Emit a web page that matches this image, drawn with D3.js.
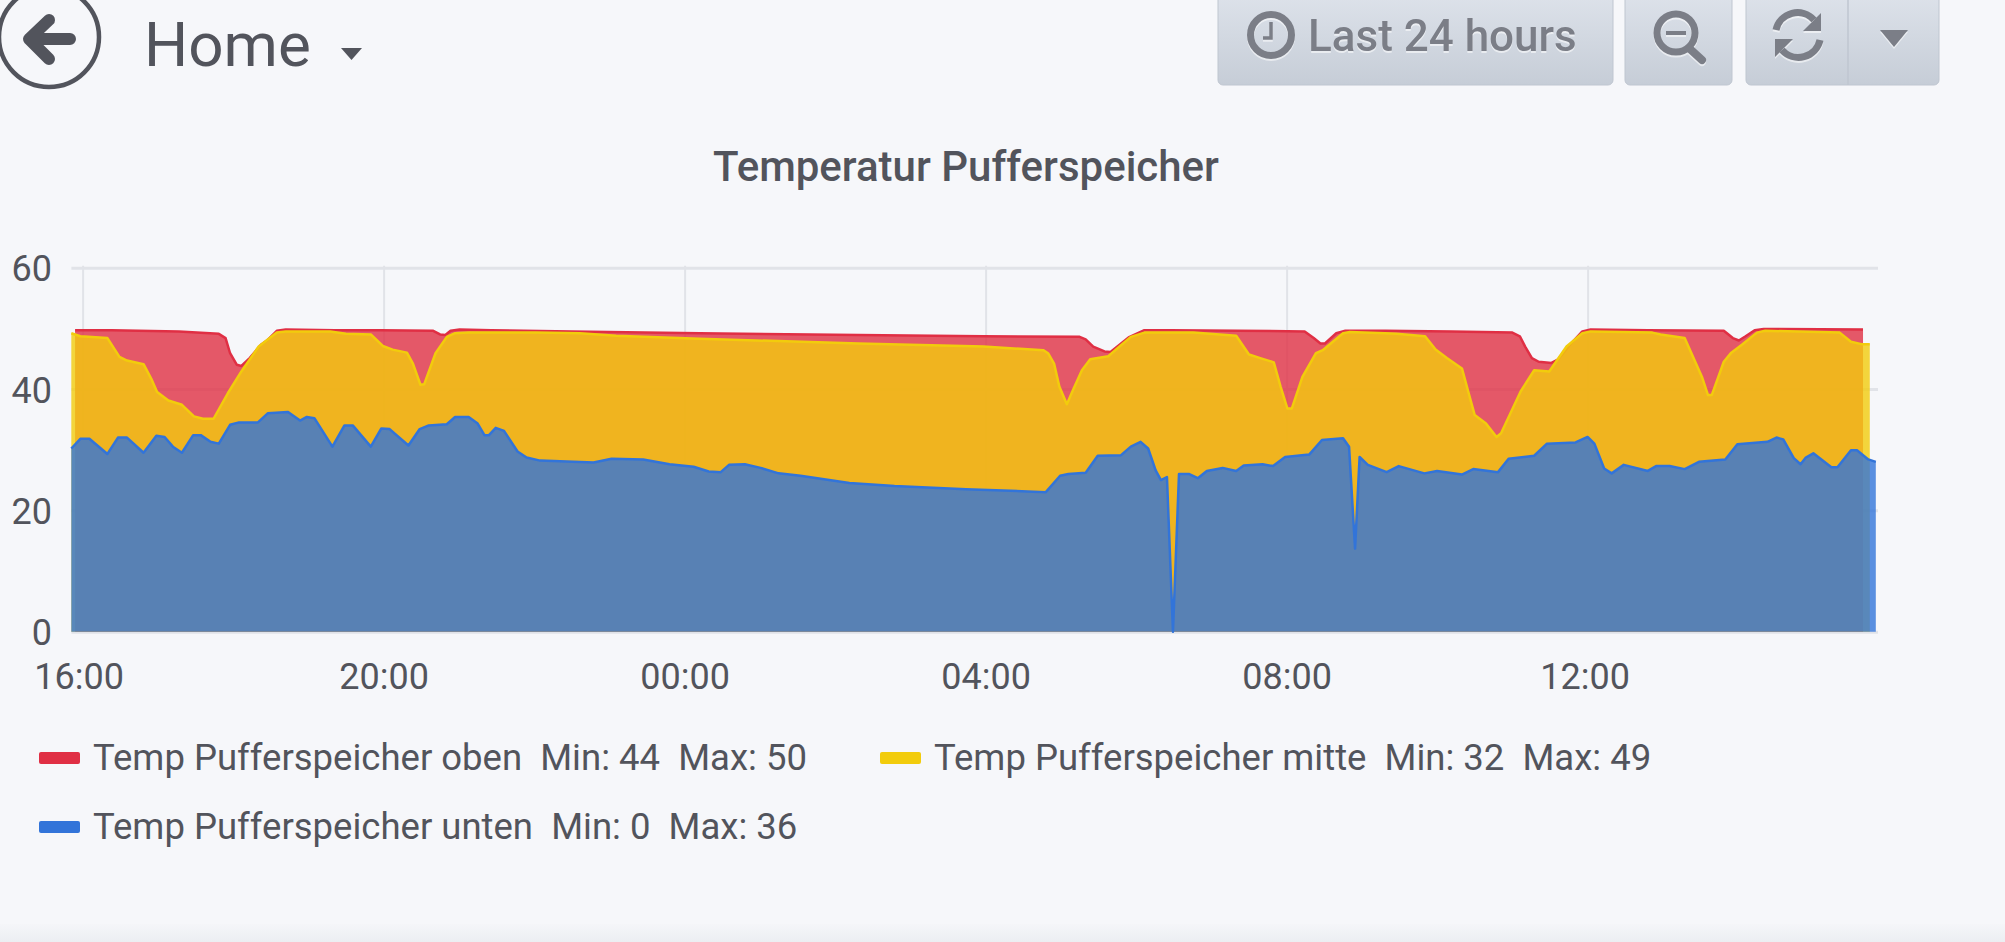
<!DOCTYPE html>
<html>
<head>
<meta charset="utf-8">
<script src="https://cdn.jsdelivr.net/npm/d3@7"></script>
<style>
  html, body { margin: 0; padding: 0; background: #f7f8fa; overflow: hidden; }
  svg { display: block; font-family: Roboto, sans-serif; }
  text { white-space: pre; }
</style>
</head>
<body>
<div id="chart"></div>
<script>
// hours after 16:00, temperature in deg C
const obenHours = [-0.10,0.39,1.28,1.81,1.90,1.96,2.05,2.11,2.22,2.37,2.46,2.58,2.70,3.35,3.95,4.66,4.75,4.82,4.89,5.01,5.43,6.50,8.20,10.31,11.97,13.25,13.33,13.43,13.58,13.66,13.78,13.90,14.11,14.46,15.35,16.24,16.36,16.45,16.51,16.66,16.78,17.31,18.19,19.00,19.10,19.17,19.26,19.35,19.52,19.61,19.78,19.93,20.04,20.80,21.81,21.93,22.01,22.10,22.22,22.34,23.66];
const obenValues = [49.7,49.7,49.5,49.1,48.4,45.9,44.0,43.8,45.1,47.3,48.1,49.6,49.8,49.7,49.7,49.6,49.0,48.9,49.6,49.8,49.7,49.5,49.2,48.9,48.7,48.6,48.2,47.0,46.2,46.1,47.3,48.5,49.7,49.7,49.6,49.5,48.4,47.5,47.5,49.2,49.6,49.6,49.5,49.3,48.7,47.0,45.1,44.5,44.3,44.9,47.5,49.5,49.8,49.7,49.6,48.4,48.0,48.7,49.7,49.9,49.8];

const mitteHours = [-0.15,-0.03,0.33,0.49,0.59,0.81,0.92,0.99,1.14,1.32,1.48,1.60,1.74,1.93,2.11,2.34,2.58,2.70,3.29,3.50,3.83,3.99,4.12,4.31,4.39,4.49,4.54,4.69,4.84,4.95,5.13,6.02,6.61,7.09,8.20,10.31,11.97,12.77,12.83,12.91,12.98,13.08,13.16,13.28,13.39,13.63,13.78,13.93,14.11,14.76,15.33,15.40,15.50,15.65,15.83,15.92,16.01,16.07,16.21,16.39,16.48,16.75,16.84,17.31,17.46,17.84,17.98,18.13,18.33,18.42,18.50,18.65,18.79,18.85,19.11,19.29,19.49,19.72,19.93,20.04,20.86,20.97,21.29,21.38,21.52,21.60,21.65,21.81,21.91,22.05,22.25,22.36,23.35,23.50,23.64,23.75];
const mitteValues = [49.2,48.7,48.4,45.3,44.7,44.1,41.5,39.5,38.1,37.4,35.5,35.1,35.1,39.3,42.9,47.0,49.3,49.5,49.5,49.1,49.0,47.1,46.5,46.0,44.2,40.7,40.8,45.9,48.6,49.2,49.3,49.3,49.2,48.8,48.3,47.5,47.0,46.4,45.9,44.2,40.4,37.5,39.8,43.1,44.9,45.4,47.0,48.6,49.3,49.3,48.8,47.5,45.7,45.1,44.4,40.4,36.8,36.8,42.0,45.9,46.4,49.2,49.4,49.2,49.1,48.7,46.5,45.1,43.4,39.3,35.7,34.3,32.1,32.7,39.6,43.1,42.9,47.0,49.2,49.5,49.3,49.0,48.4,45.9,42.0,39.0,39.0,44.5,46.0,47.3,49.3,49.6,49.3,47.8,47.4,47.4];

const untenHours = [-0.15,-0.03,0.09,0.33,0.47,0.59,0.81,0.98,1.09,1.20,1.32,1.47,1.57,1.70,1.81,1.96,2.08,2.33,2.46,2.73,2.89,2.98,3.08,3.32,3.48,3.59,3.83,3.97,4.08,4.33,4.48,4.60,4.84,4.95,5.13,5.25,5.34,5.40,5.49,5.60,5.78,5.90,6.08,6.79,7.03,7.45,7.80,8.12,8.32,8.48,8.59,8.80,9.01,9.25,9.54,10.19,10.79,11.74,12.80,12.99,13.10,13.33,13.49,13.80,13.93,14.06,14.16,14.26,14.33,14.41,14.49,14.57,14.70,14.82,14.94,15.15,15.33,15.43,15.68,15.82,15.98,16.30,16.47,16.75,16.83,16.91,16.97,17.08,17.33,17.49,17.83,18.00,18.33,18.48,18.81,18.95,19.29,19.46,19.84,20.00,20.09,20.22,20.32,20.48,20.80,20.91,21.09,21.29,21.48,21.83,21.99,22.39,22.51,22.60,22.74,22.83,22.90,23.00,23.24,23.32,23.50,23.58,23.73,23.83];
const untenValues = [30.2,31.8,31.8,29.3,32.0,32.0,29.5,32.3,32.1,30.5,29.5,32.4,32.4,31.3,31.0,34.1,34.5,34.5,36.0,36.2,34.8,35.4,35.2,30.5,34.0,34.0,30.5,33.5,33.4,30.7,33.4,34.0,34.2,35.4,35.4,34.3,32.4,32.4,33.6,33.1,29.7,28.7,28.2,27.9,28.5,28.4,27.6,27.2,26.4,26.3,27.5,27.6,27.0,26.1,25.7,24.5,24.0,23.5,23.0,25.7,26.0,26.2,29.0,29.1,30.5,31.3,30.2,26.6,25.0,25.5,0,26.0,26.0,25.3,26.5,27.0,26.5,27.4,27.6,27.3,28.8,29.2,31.6,31.9,30.5,13.7,28.8,27.5,26.3,27.3,26.1,26.5,25.9,26.8,26.3,28.5,29.0,31.0,31.2,32.1,31.0,26.9,26.1,27.5,26.5,27.3,27.3,26.8,28.0,28.4,30.9,31.3,32.0,31.7,28.6,27.6,28.7,29.4,27.1,27.1,29.9,29.9,28.4,28.0];

const seriesNames = ['Temp Pufferspeicher oben', 'Temp Pufferspeicher mitte', 'Temp Pufferspeicher unten'];
const seriesMin = [44, 32, 0];
const seriesMax = [50, 49, 36];
const seriesColors = ['#e02f44', '#f2cc0c', '#3274d9'];

const xTickHours = [0, 4, 8, 12, 16, 20];
const xTickLabels = ['16:00', '20:00', '00:00', '04:00', '08:00', '12:00'];
const yTicks = [0, 20, 40, 60];

const width = 2005, height = 942;
const textColor = '#52545c';
const btnText = '#7b7e87';

const svg = d3.select('#chart').append('svg')
  .attr('width', width)
  .attr('height', height);

const defs = svg.append('defs');
const btnGrad = defs.append('linearGradient').attr('id', 'btn').attr('x1', 0).attr('x2', 0).attr('y1', 0).attr('y2', 1);
btnGrad.append('stop').attr('offset', '0%').attr('stop-color', '#dee3eb');
btnGrad.append('stop').attr('offset', '100%').attr('stop-color', '#c6cdd7');
const bottomGrad = defs.append('linearGradient').attr('id', 'bottomFade').attr('x1', 0).attr('x2', 0).attr('y1', 0).attr('y2', 1);
bottomGrad.append('stop').attr('offset', '0%').attr('stop-color', '#f5f6f9');
bottomGrad.append('stop').attr('offset', '100%').attr('stop-color', '#eceef2');

svg.append('rect').attr('width', width).attr('height', height).attr('fill', '#f6f7fa');
svg.append('rect').attr('y', 924).attr('width', width).attr('height', 18).attr('fill', 'url(#bottomFade)');

// scales
const x = d3.scaleLinear().domain([0, 20]).range([82.6, 1587.6]);
const y = d3.scaleLinear().domain([0, 60]).range([631.7, 267.7]);
const plotLeft = 71.4, plotRight = 1878;

// grid + axes, drawn under the series like flot does
const xAxis = svg.append('g')
  .attr('transform', `translate(0,${y(0)})`)
  .call(d3.axisBottom(x).tickValues(xTickHours).tickFormat((d, i) => xTickLabels[i]).tickSize(-(y(0) - y(60) + 2)));
xAxis.select('.domain').remove();
xAxis.selectAll('line').attr('stroke', '#e1e3e8').attr('stroke-width', 2);
xAxis.selectAll('text')
  .attr('y', 57).attr('dy', 0)
  .attr('dx', (d, i) => (i === 0 ? -4 : i === 5 ? -3 : 0))
  .attr('fill', textColor).attr('font-size', 36).attr('font-family', 'Roboto, sans-serif');

const yAxis = svg.append('g')
  .attr('transform', `translate(${plotLeft},0)`)
  .call(d3.axisLeft(y).tickValues(yTicks).tickSize(-(plotRight - plotLeft)));
yAxis.select('.domain').remove();
yAxis.selectAll('line').attr('stroke', '#e1e3e8').attr('stroke-width', 3);
yAxis.selectAll('text')
  .attr('x', -19.5).attr('dy', '0.36em')
  .attr('fill', textColor).attr('font-size', 36).attr('font-family', 'Roboto, sans-serif');

// series, each one filled with 0.8 alpha and painted over the previous
const seriesData = [
  d3.zip(obenHours, obenValues),
  d3.zip(mitteHours, mitteValues),
  d3.zip(untenHours, untenValues)
];
const area = d3.area().x(d => x(d[0])).y0(y(0)).y1(d => y(d[1]));
const line = d3.line().x(d => x(d[0])).y(d => y(d[1]));

seriesData.forEach((data, i) => {
  svg.append('path').attr('d', area(data)).attr('fill', seriesColors[i]).attr('fill-opacity', 0.8);
  svg.append('path').attr('d', line(data)).attr('fill', 'none')
    .attr('stroke', seriesColors[i]).attr('stroke-width', 2.5).attr('stroke-linejoin', 'round');
});

// title
svg.append('text')
  .attr('x', 966).attr('y', 181)
  .attr('text-anchor', 'middle')
  .attr('font-size', 42).attr('font-weight', 500)
  .attr('fill', textColor)
  .text('Temperatur Pufferspeicher');

// legend
const legendX = [39, 880, 39];
const legendY = [770, 770, 839];
seriesNames.forEach((name, i) => {
  svg.append('rect')
    .attr('x', legendX[i]).attr('y', legendY[i] - 18)
    .attr('width', 41).attr('height', 12).attr('rx', 2)
    .attr('fill', seriesColors[i]);
  svg.append('text')
    .attr('x', legendX[i] + 54).attr('y', legendY[i])
    .attr('font-size', 36.5).attr('fill', textColor)
    .text(`${name}  Min: ${seriesMin[i]}  Max: ${seriesMax[i]}`);
});

// top bar, left side
const nav = svg.append('g');
nav.append('circle').attr('cx', 49).attr('cy', 37).attr('r', 50)
  .attr('fill', 'none').attr('stroke', textColor).attr('stroke-width', 4.5);
nav.append('path')
  .attr('d', 'M70 39H30M49 20L29 39L49 59')
  .attr('fill', 'none').attr('stroke', textColor).attr('stroke-width', 12)
  .attr('stroke-linecap', 'round').attr('stroke-linejoin', 'round');
nav.append('text').attr('x', 144).attr('y', 66)
  .attr('font-size', 62).attr('fill', textColor).text('Home');
nav.append('path').attr('d', 'M341 48H362L351.5 60Z').attr('fill', textColor);

// top bar, buttons
const buttons = [[1218, 395], [1625, 107], [1746, 193]];
buttons.forEach(b => {
  svg.append('rect').attr('x', b[0]).attr('y', -10).attr('width', b[1]).attr('height', 95)
    .attr('rx', 5).attr('fill', 'url(#btn)').attr('stroke', '#bfc6d0').attr('stroke-width', 1);
});
svg.append('line').attr('x1', 1848).attr('x2', 1848).attr('y1', 0).attr('y2', 85)
  .attr('stroke', '#bfc6d0').attr('stroke-width', 1.5);

const btnIcons = svg.append('g').style('filter', 'drop-shadow(0 2px 0 rgba(255,255,255,0.55))');
btnIcons.append('circle').attr('cx', 1271).attr('cy', 35).attr('r', 20.5)
  .attr('fill', 'none').attr('stroke', btnText).attr('stroke-width', 7);
btnIcons.append('path').attr('d', 'M1271 22V38H1263').attr('fill', 'none')
  .attr('stroke', btnText).attr('stroke-width', 3.5);
btnIcons.append('text').attr('x', 1308).attr('y', 50.5)
  .attr('font-size', 44).attr('font-weight', 500).attr('fill', btnText).text('Last 24 hours');
btnIcons.append('circle').attr('cx', 1676).attr('cy', 33).attr('r', 19)
  .attr('fill', 'none').attr('stroke', btnText).attr('stroke-width', 7);
btnIcons.append('path').attr('d', 'M1666 33H1686').attr('stroke', btnText).attr('stroke-width', 4);
btnIcons.append('path').attr('d', 'M1690 49L1702 60').attr('stroke', btnText)
  .attr('stroke-width', 8).attr('stroke-linecap', 'round');
btnIcons.append('path').attr('d', 'M1776 30A22 22 0 0 1 1814 20M1820 40A22 22 0 0 1 1782 50')
  .attr('fill', 'none').attr('stroke', btnText).attr('stroke-width', 7);
btnIcons.append('path').attr('d', 'M1821 13V31H1803ZM1775 57V39H1793Z').attr('fill', btnText);
btnIcons.append('path').attr('d', 'M1880 30H1908L1894 47Z').attr('fill', btnText);
</script>
</body>
</html>
